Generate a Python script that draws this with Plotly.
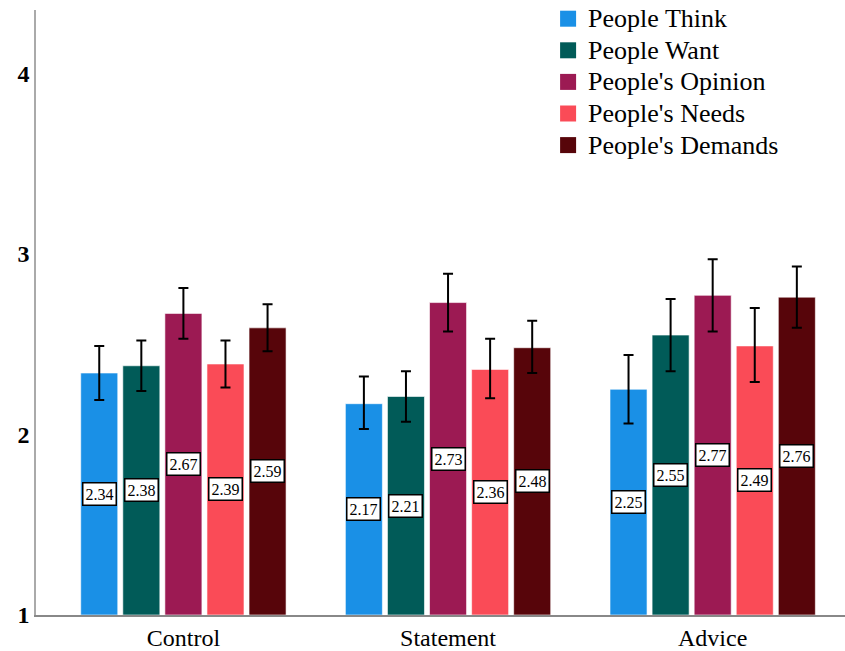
import plotly.graph_objects as go

# Conditions on the x axis
categories = ["Control", "Statement", "Advice"]

# Series names and mean ratings per condition
series_names = ["People Think", "People Want", "People's Opinion", "People's Needs", "People's Demands"]
means = {
    "People Think":     [2.34, 2.17, 2.25],
    "People Want":      [2.38, 2.21, 2.55],
    "People's Opinion": [2.67, 2.73, 2.77],
    "People's Needs":   [2.39, 2.36, 2.49],
    "People's Demands": [2.59, 2.48, 2.76],
}
# Error bar half-widths (upper / lower)
err_plus = {
    "People Think":     [0.15, 0.15, 0.19],
    "People Want":      [0.14, 0.14, 0.20],
    "People's Opinion": [0.14, 0.16, 0.20],
    "People's Needs":   [0.13, 0.17, 0.21],
    "People's Demands": [0.13, 0.15, 0.17],
}
err_minus = {
    "People Think":     [0.15, 0.14, 0.19],
    "People Want":      [0.14, 0.14, 0.20],
    "People's Opinion": [0.14, 0.16, 0.20],
    "People's Needs":   [0.13, 0.16, 0.20],
    "People's Demands": [0.13, 0.14, 0.17],
}
colors = ["#1a90e6", "#015b58", "#9c1a53", "#fa4b57", "#57050a"]
baseline = 1

SERIF = "Liberation Serif, Times New Roman, serif"
bargap = 0.205
bargroupgap = 0.12
slot = (1 - bargap) / len(series_names)

fig = go.Figure()
annotations = []
for j, (name, col) in enumerate(zip(series_names, colors)):
    vals = means[name]
    fig.add_trace(go.Bar(
        x=categories,
        y=[v - baseline for v in vals],
        base=baseline,
        name=name,
        marker=dict(color=col, line=dict(color="rgba(255,255,255,0.6)", width=1)),
        error_y=dict(type="data", symmetric=False, array=err_plus[name],
                     arrayminus=err_minus[name], color="black", thickness=2, width=5),
        showlegend=False,
        hoverinfo="skip",
    ))
    # Legend proxy with a larger square swatch; larger glyphs, compact rows
    fig.add_trace(go.Scatter(
        x=[None], y=[None], mode="markers",
        name=f'<span style="font-size:26px">{name}</span>',
        marker=dict(symbol="square", size=16, color=col),
    ))
    # Boxed value labels at the middle of each bar
    for i, v in enumerate(vals):
        annotations.append(dict(
            x=i + (j - (len(series_names) - 1) / 2) * slot,
            y=(baseline + v) / 2,
            xref="x", yref="y",
            text=f"{v:.2f}",
            showarrow=False,
            font=dict(family=SERIF, size=16, color="black"),
            bgcolor="white", bordercolor="black", borderwidth=1.5, borderpad=2,
        ))

fig.update_layout(
    width=845, height=651,
    margin=dict(l=36, r=0, t=10, b=36, autoexpand=False),
    paper_bgcolor="white", plot_bgcolor="white",
    barmode="group", bargap=bargap, bargroupgap=bargroupgap,
    font=dict(family=SERIF, color="black"),
    annotations=annotations,
    legend=dict(
        x=0.633, y=1.02, xanchor="left", yanchor="top",
        font=dict(family=SERIF, size=22, color="black"),
        bgcolor="rgba(0,0,0,0)", tracegroupgap=0, itemsizing="trace",
    ),
    xaxis=dict(
        type="category", range=[-0.557, 2.5], automargin=False,
        showline=True, linecolor="#888888", linewidth=1.5,
        ticks="", showgrid=False, zeroline=False,
        tickfont=dict(family=SERIF, size=24, color="black"),
    ),
    yaxis=dict(
        range=[1, 4.35], tickvals=[1, 2, 3, 4], automargin=False,
        ticktext=["<b>1</b>", "<b>2</b>", "<b>3</b>", "<b>4</b>"],
        showline=True, linecolor="#aaaaaa", linewidth=1.5,
        ticks="", showgrid=False, zeroline=False,
        tickfont=dict(family=SERIF, size=24, color="black"),
    ),
)

fig.write_html("out.html")
